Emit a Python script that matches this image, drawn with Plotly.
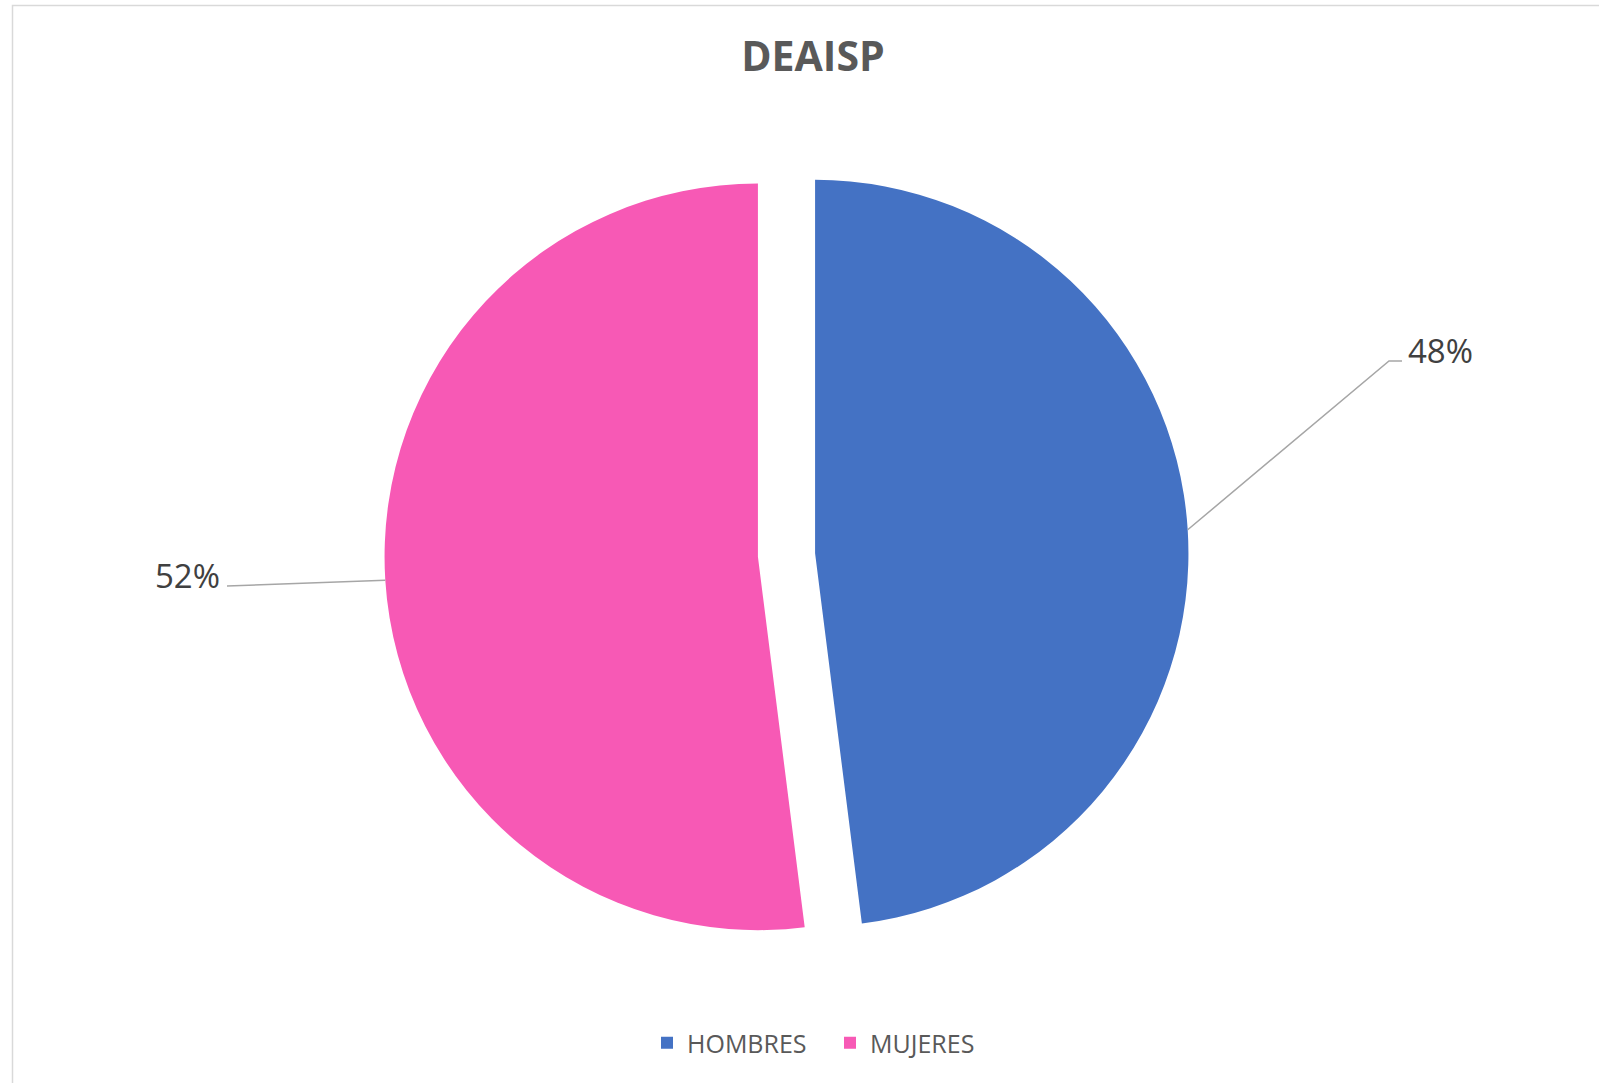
import math
import plotly.graph_objects as go

# ---- data ----
categories = ["HOMBRES", "MUJERES"]
values = [48, 52]
colors = ["#4472C4", "#F759B5"]
chart_title = "DEAISP"

# ---- layout constants ----
W, H = 1599, 1083
ML, MR, MT, MB = 40, 66, 153, 126
PULL = 0.0767
pw, ph = W - ML - MR, H - MT - MB
cx, cy = ML + pw / 2, MT + ph / 2
R = min(pw, ph) / 2 / (1 + PULL)

# label elbow (pixel) positions and tails per slice (layout styling)
LABEL_ELBOW = [(1389, 361), (227, 586)]
LABEL_TAIL = [13, 0]


def to_paper(px, py):
    return ((px - ML) / pw, (MT + ph - py) / ph)


total = sum(values)
fig = go.Figure(go.Pie(
    labels=categories, values=values, sort=False, direction="clockwise",
    rotation=0, pull=[PULL] * len(values),
    marker=dict(colors=colors, line=dict(width=0)),
    textinfo="none", hoverinfo="label+percent",
    domain=dict(x=[0, 1], y=[0, 1]),
))

shapes = []
annotations = []
cum = 0.0
for i, v in enumerate(values):
    frac = v / total
    mid = cum + frac / 2
    cum += frac
    th = 2 * math.pi * mid
    vx = cx + PULL * R * math.sin(th)
    vy = cy - PULL * R * math.cos(th)
    ex = vx + R * math.sin(th)
    ey = vy - R * math.cos(th)
    elx, ely = LABEL_ELBOW[i]
    right = math.sin(th) > 0
    tx = elx + (LABEL_TAIL[i] if right else -LABEL_TAIL[i])
    pts = [(ex, ey), (elx, ely), (tx, ely)]
    path = "M " + " L ".join(
        f"{to_paper(px, py)[0]},{to_paper(px, py)[1]}" for px, py in pts)
    shapes.append(dict(type="path", path=path, xref="paper", yref="paper",
                       line=dict(color="#A6A6A6", width=1.5)))
    lx = tx + (4 if right else -5)
    ax, ay = to_paper(lx, ely - 11)
    annotations.append(dict(
        x=ax, y=ay, xref="paper", yref="paper", showarrow=False,
        text=f"{round(frac * 100)}%", xanchor="left" if right else "right",
        yanchor="middle",
        font=dict(family="Open Sans", size=33, color="#404040")))

# chart border (left and top edges visible)
bx0, by0 = to_paper(12.5, 5.5)
bx1, by1 = to_paper(W + 60, H + 60)
shapes.append(dict(type="rect", xref="paper", yref="paper",
                   x0=bx0, y0=by1, x1=bx1, y1=by0,
                   line=dict(color="#D9D9D9", width=1.5), layer="below"))

lgx, lgy = to_paper(830, 1043)
fig.update_layout(
    width=W, height=H,
    margin=dict(l=ML, r=MR, t=MT, b=MB, autoexpand=False),
    paper_bgcolor="white", plot_bgcolor="white",
    title=dict(text=f"<b>{chart_title}</b>", x=813 / W,
               xref="container", xanchor="center",
               y=1 - 57 / H, yanchor="middle",
               font=dict(family="Open Sans", size=41, color="#595959")),
    legend=dict(orientation="h", x=lgx, xanchor="center", y=lgy,
                yanchor="middle", entrywidth=138, entrywidthmode="pixels",
                font=dict(family="Open Sans", size=25, color="#595959"),
                itemclick=False),
    shapes=shapes, annotations=annotations,
)

fig.write_html(
    "out.html",
    config={"displayModeBar": False},
    post_script="document.body.style.margin='0';document.body.style.overflow='hidden';",
)
